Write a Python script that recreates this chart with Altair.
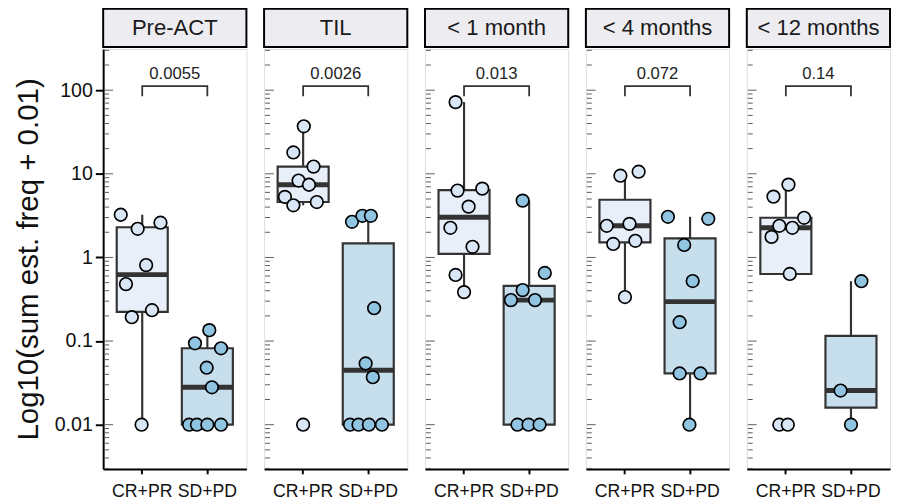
import altair as alt
import numpy as np
import pandas as pd

panels = ["Pre-ACT", "TIL", "< 1 month", "< 4 months", "< 12 months"]
groups = ["CR+PR", "SD+PD"]
p_values = ["0.0055", "0.0026", "0.013", "0.072", "0.14"]

# plotted values: sum est. freq + 0.01
pre_cr = [3.24, 2.2, 2.6, 0.81, 0.48, 0.193, 0.234, 0.01]
pre_sd = [0.135, 0.094, 0.082, 0.048, 0.028, 0.01, 0.01, 0.01, 0.01]
til_cr = [37, 18, 12.2, 8.3, 7.4, 5.3, 4.2, 4.6, 0.01]
til_sd = [2.67, 3.15, 3.15, 0.247, 0.054, 0.037, 0.01, 0.01, 0.01, 0.01]
m1_cr = [72, 6.3, 6.65, 4.05, 2.26, 1.34, 0.617, 0.385]
m1_sd = [4.78, 0.652, 0.407, 0.309, 0.309, 0.01, 0.01, 0.01]
m4_cr = [9.5, 10.6, 2.39, 2.52, 1.45, 1.58, 0.336]
m4_sd = [3.06, 2.9, 1.41, 0.522, 0.168, 0.041, 0.041, 0.01]
m12_cr = [7.43, 5.33, 2.98, 2.39, 2.26, 1.76, 0.634, 0.01, 0.01]
m12_sd = [0.52, 0.0256, 0.01]

# horizontal jitter of each dot, in units of the category step
pre_cr_j = [-0.33, -0.07, 0.28, 0.06, -0.25, -0.16, 0.15, -0.01]
pre_sd_j = [0.03, -0.19, 0.21, -0.01, 0.07, -0.28, -0.16, 0.0, 0.21]
til_cr_j = [0.01, -0.15, 0.16, -0.07, 0.09, -0.28, -0.15, 0.21, 0.0]
til_sd_j = [-0.25, -0.09, 0.04, 0.09, -0.04, 0.07, -0.28, -0.15, 0.01, 0.21]
m1_cr_j = [-0.13, -0.10, 0.28, 0.07, -0.21, 0.13, -0.13, 0.0]
m1_sd_j = [-0.10, 0.24, -0.10, -0.28, 0.09, -0.18, -0.01, 0.16]
m4_cr_j = [-0.07, 0.21, -0.28, 0.07, -0.18, 0.16, 0.0]
m4_sd_j = [-0.34, 0.28, -0.09, 0.04, -0.16, -0.16, 0.16, -0.01]
m12_cr_j = [0.04, -0.19, 0.28, -0.10, 0.10, -0.22, 0.06, -0.10, 0.03]
m12_sd_j = [0.16, -0.16, 0.0]

series = {
    "Pre-ACT": [(pre_cr, pre_cr_j), (pre_sd, pre_sd_j)],
    "TIL": [(til_cr, til_cr_j), (til_sd, til_sd_j)],
    "< 1 month": [(m1_cr, m1_cr_j), (m1_sd, m1_sd_j)],
    "< 4 months": [(m4_cr, m4_cr_j), (m4_sd, m4_sd_j)],
    "< 12 months": [(m12_cr, m12_cr_j), (m12_sd, m12_sd_j)],
}

rows = []
for pn in panels:
    for g, (vals, jit) in zip(groups, series[pn]):
        for v, j in zip(vals, jit):
            rows.append({"panel": pn, "group": g, "value": v, "jit": j})
df = pd.DataFrame(rows)
df["logv"] = np.log10(df["value"])

FONT = "Liberation Sans"
W, H = 146, 428
YMIN, YMAX = -2.529, 2.4925
BR_TOP, BR_TIP = 2.048, 1.928

box_fill = ["#E8EFF8", "#C7DEED"]
dot_fill = ["#D8E6F5", "#90C4E1"]
DARK = "#333333"
TICKC = "#5a5a5a"

# log tick marks (annotation style)
tick_rows = []
for e in range(-3, 3):
    for k in range(1, 10):
        lv = float(np.log10(k * 10.0 ** e))
        if YMIN <= lv <= YMAX:
            tick_rows.append({"logv": lv, "major": k == 1})
ticks_df = pd.DataFrame(tick_rows)

xscale = alt.Scale(type="band", domain=groups, paddingInner=0, paddingOuter=0.1)
yscale = alt.Scale(domain=[YMIN, YMAX], nice=False, zero=False)
oscale = alt.Scale(domain=[-0.5, 0.5])

xaxis = alt.Axis(title=None, labelAngle=0, labelFontSize=18, labelColor="#111111",
                 labelFont=FONT, domainColor="black", domainWidth=2, tickColor="black",
                 tickWidth=2, tickSize=5, labelPadding=9, grid=False)


def make_panel(i):
    name = panels[i]
    pdata = df[df.panel == name]
    if i == 0:
        yaxis = alt.Axis(values=[-2, -1, 0, 1, 2],
                         labelExpr="format(pow(10, datum.value), '~g')",
                         title="Log10(sum est. freq + 0.01)", titleFontSize=30,
                         titleFont=FONT, titleFontWeight="normal", titleColor="#111111",
                         titlePadding=11, labelFontSize=20, labelFont=FONT,
                         labelColor="#111111", domain=True, domainColor="black",
                         domainWidth=2, ticks=True, tickColor="black", tickWidth=2,
                         tickSize=8, labelPadding=3, grid=False)
    else:
        yaxis = None
    X = alt.X("group:N", scale=xscale, axis=xaxis)
    Y = alt.Y("logv:Q", scale=yscale, axis=yaxis)

    base_ticks = alt.Chart(ticks_df)
    major = base_ticks.transform_filter("datum.major").mark_tick(
        orient="horizontal", color=TICKC, size=9, thickness=1, opacity=1).encode(
        y=Y, x=alt.value(5.5))
    minor = base_ticks.transform_filter("!datum.major").mark_tick(
        orient="horizontal", color=TICKC, size=5, thickness=1, opacity=1).encode(
        y=Y, x=alt.value(3.5))

    hdr = pd.DataFrame({"panel": [name]})
    head_rect = alt.Chart(hdr).mark_rect(fill="#EDEDF1", stroke="black", strokeWidth=2).encode(
        x=alt.value(0), x2=alt.value(W), y=alt.value(-41), y2=alt.value(-2))
    head_text = alt.Chart(hdr).mark_text(fontSize=22.5, font=FONT, color="#1a1a1a",
                                         baseline="middle", align="center").encode(
        x=alt.value(W / 2), y=alt.value(-21), text="panel:N")

    boxes = []
    for g, f in zip(groups, box_fill):
        boxes.append(
            alt.Chart(pdata).transform_filter(alt.datum.group == g).mark_boxplot(
                size=52, extent=1.5, outliers=False, ticks=False,
                box={"fill": f, "stroke": DARK, "strokeWidth": 2.2},
                median={"color": DARK, "thickness": 5, "opacity": 1},
                rule={"stroke": DARK, "strokeWidth": 2.2},
            ).encode(x=X, y=Y)
        )

    dots = alt.Chart(pdata).mark_circle(size=165, stroke="black", strokeWidth=1.7,
                                        opacity=1).encode(
        x=X, y=Y,
        xOffset=alt.XOffset("jit:Q", scale=oscale),
        fill=alt.Fill("group:N", scale=alt.Scale(domain=groups, range=dot_fill), legend=None),
    )

    br = pd.DataFrame({"group": ["CR+PR", "CR+PR", "SD+PD", "SD+PD"],
                       "logv": [BR_TIP, BR_TOP, BR_TOP, BR_TIP], "ord": [0, 1, 2, 3]})
    bracket = alt.Chart(br).mark_line(color=DARK, strokeWidth=1.8).encode(
        x=X, y=Y, order="ord:Q")

    pt = pd.DataFrame({"group": ["CR+PR"], "logv": [BR_TOP], "off": [0.5],
                       "label": [p_values[i]]})
    ptext = alt.Chart(pt).mark_text(fontSize=17, font=FONT, color="#222222",
                                    baseline="bottom", dy=-3).encode(
        x=X, y=Y, xOffset=alt.XOffset("off:Q", scale=oscale), text="label:N")

    return alt.layer(major, minor, head_rect, head_text, *boxes, dots, bracket, ptext).properties(
        width=W, height=H)


chart = alt.hconcat(*[make_panel(i) for i in range(5)], spacing=14).resolve_scale(
    x="independent", y="independent").properties(
    padding={"left": 5, "top": -6, "right": 0, "bottom": 0}
).configure_view(stroke=None).configure_axisY(domain=False).configure(background="white")

chart.save("out.html", embed_options={"renderer": "svg", "actions": False})
